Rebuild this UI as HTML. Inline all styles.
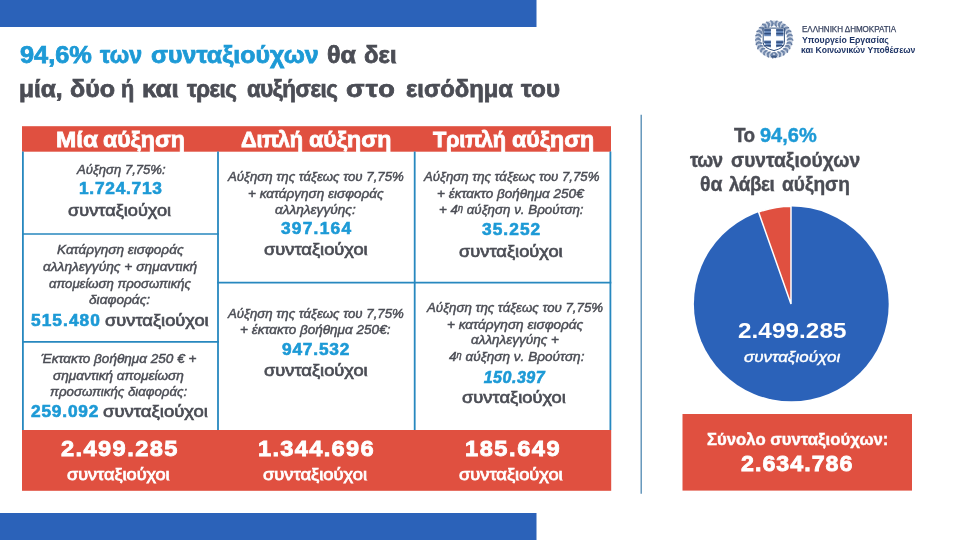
<!DOCTYPE html>
<html lang="el">
<head>
<meta charset="utf-8">
<title>Αυξήσεις συντάξεων</title>
<style>
html,body{margin:0;padding:0;background:#fff;}
body{width:960px;height:540px;position:relative;overflow:hidden;font-family:"Liberation Sans",sans-serif;}
.abs{position:absolute;}
.t{position:absolute;white-space:nowrap;transform-origin:0 0;display:block;}
.t sup{font-size:68%;line-height:0;vertical-align:baseline;position:relative;top:-0.36em;}
</style>
</head>
<body>
<!-- colour blocks -->
<svg class="abs" style="left:0;top:0;" width="960" height="540" viewBox="0 0 960 540">
  <g fill="#2b62b9">
    <rect x="0" y="0" width="536.5" height="27"/>
    <rect x="0" y="513" width="536.5" height="27"/>
  </g>
  <g fill="#e05040">
    <rect x="22" y="126.2" width="589" height="25.5"/>
    <rect x="22" y="430" width="589.2" height="60.8"/>
    <rect x="682.5" y="414" width="229.5" height="76.6"/>
  </g>
</svg>
<!-- table lines -->
<svg class="abs" style="left:0;top:100px;" width="660" height="400" viewBox="0 100 660 400">
  <g stroke="#2788bf" stroke-width="1.8" fill="none">
    <path d="M22.9 151.5V430 M218 151.5V430 M414.7 151.5V430 M610.4 151.5V430"/>
    <path d="M22 234H218.9 M22 341.8H218.9 M217.1 282.6H611.3" stroke-width="1.7"/>
  </g>
  <path d="M641.2 114.8V493.8" stroke="#4f88b2" stroke-width="1.3" fill="none"/>
</svg>

<!-- pie -->
<svg class="abs" style="left:680px;top:195px;" width="220" height="215" viewBox="680 195 220 215">
  <circle cx="791.3" cy="303.9" r="97.4" fill="#2b62b9"/>
  <path d="M791.0 303.9 L791.0 206.20 A97.4 97.4 0 0 0 758.58 212.05 Z" fill="#e05040" stroke="#fff" stroke-width="1.5" stroke-linejoin="miter"/>
</svg>

<svg class="abs" style="left:750px;top:15px;" width="48" height="48" viewBox="750 15 48 48">
<circle cx="774.0" cy="39.2" r="16.1" fill="none" stroke="#b9c6da" stroke-width="5.4" opacity="0.8"/>
<g opacity="0.88"><ellipse cx="776.08" cy="22.08" rx="2.05" ry="0.85" fill="#4f6790" transform="rotate(134.9 776.08 22.08)"/><ellipse cx="775.92" cy="23.38" rx="2.08" ry="0.85" fill="#7088ad" transform="rotate(96.9 775.92 23.38)"/><ellipse cx="775.70" cy="25.16" rx="2.20" ry="0.85" fill="#5d769e" transform="rotate(58.9 775.70 25.16)"/><ellipse cx="780.26" cy="22.70" rx="2.40" ry="0.85" fill="#4f6790" transform="rotate(148.8 780.26 22.70)"/><ellipse cx="779.73" cy="24.09" rx="2.11" ry="0.85" fill="#7088ad" transform="rotate(110.8 779.73 24.09)"/><ellipse cx="779.11" cy="25.72" rx="2.14" ry="0.85" fill="#5d769e" transform="rotate(72.8 779.11 25.72)"/><ellipse cx="783.77" cy="25.04" rx="2.05" ry="0.85" fill="#4f6790" transform="rotate(162.6 783.77 25.04)"/><ellipse cx="782.99" cy="26.17" rx="2.46" ry="0.85" fill="#7088ad" transform="rotate(124.6 782.99 26.17)"/><ellipse cx="782.29" cy="27.19" rx="2.40" ry="0.85" fill="#5d769e" transform="rotate(86.6 782.29 27.19)"/><ellipse cx="787.16" cy="27.54" rx="2.10" ry="0.85" fill="#4f6790" transform="rotate(176.5 787.16 27.54)"/><ellipse cx="785.89" cy="28.67" rx="2.31" ry="0.85" fill="#7088ad" transform="rotate(138.5 785.89 28.67)"/><ellipse cx="784.88" cy="29.56" rx="2.43" ry="0.85" fill="#5d769e" transform="rotate(100.5 784.88 29.56)"/><ellipse cx="789.61" cy="31.01" rx="2.04" ry="0.85" fill="#4f6790" transform="rotate(190.3 789.61 31.01)"/><ellipse cx="788.22" cy="31.73" rx="2.34" ry="0.85" fill="#7088ad" transform="rotate(152.3 788.22 31.73)"/><ellipse cx="786.75" cy="32.51" rx="2.09" ry="0.85" fill="#5d769e" transform="rotate(114.3 786.75 32.51)"/><ellipse cx="790.88" cy="35.04" rx="2.04" ry="0.85" fill="#4f6790" transform="rotate(204.2 790.88 35.04)"/><ellipse cx="789.79" cy="35.31" rx="2.43" ry="0.85" fill="#7088ad" transform="rotate(166.2 789.79 35.31)"/><ellipse cx="788.01" cy="35.75" rx="2.15" ry="0.85" fill="#5d769e" transform="rotate(128.2 788.01 35.75)"/><ellipse cx="791.65" cy="39.20" rx="2.29" ry="0.85" fill="#4f6790" transform="rotate(218.0 791.65 39.20)"/><ellipse cx="790.23" cy="39.20" rx="2.42" ry="0.85" fill="#7088ad" transform="rotate(180.0 790.23 39.20)"/><ellipse cx="788.41" cy="39.20" rx="2.21" ry="0.85" fill="#5d769e" transform="rotate(142.0 788.41 39.20)"/><ellipse cx="790.95" cy="43.38" rx="2.22" ry="0.85" fill="#4f6790" transform="rotate(231.8 790.95 43.38)"/><ellipse cx="789.34" cy="42.98" rx="2.15" ry="0.85" fill="#7088ad" transform="rotate(193.8 789.34 42.98)"/><ellipse cx="788.16" cy="42.69" rx="2.02" ry="0.85" fill="#5d769e" transform="rotate(155.8 788.16 42.69)"/><ellipse cx="789.17" cy="47.16" rx="2.31" ry="0.85" fill="#4f6790" transform="rotate(245.7 789.17 47.16)"/><ellipse cx="788.05" cy="46.57" rx="2.27" ry="0.85" fill="#7088ad" transform="rotate(207.7 788.05 46.57)"/><ellipse cx="786.74" cy="45.88" rx="2.17" ry="0.85" fill="#5d769e" transform="rotate(169.7 786.74 45.88)"/><ellipse cx="787.25" cy="50.94" rx="2.10" ry="0.85" fill="#4f6790" transform="rotate(259.5 787.25 50.94)"/><ellipse cx="785.94" cy="49.78" rx="2.10" ry="0.85" fill="#7088ad" transform="rotate(221.5 785.94 49.78)"/><ellipse cx="784.84" cy="48.80" rx="2.14" ry="0.85" fill="#5d769e" transform="rotate(183.5 784.84 48.80)"/><ellipse cx="783.84" cy="53.45" rx="2.37" ry="0.85" fill="#4f6790" transform="rotate(273.4 783.84 53.45)"/><ellipse cx="783.03" cy="52.28" rx="2.28" ry="0.85" fill="#7088ad" transform="rotate(235.4 783.03 52.28)"/><ellipse cx="782.32" cy="51.25" rx="2.05" ry="0.85" fill="#5d769e" transform="rotate(197.4 782.32 51.25)"/><ellipse cx="780.08" cy="55.22" rx="2.11" ry="0.85" fill="#4f6790" transform="rotate(287.2 780.08 55.22)"/><ellipse cx="779.73" cy="54.31" rx="2.31" ry="0.85" fill="#7088ad" transform="rotate(249.2 779.73 54.31)"/><ellipse cx="779.05" cy="52.52" rx="2.17" ry="0.85" fill="#5d769e" transform="rotate(211.2 779.05 52.52)"/><ellipse cx="776.07" cy="56.28" rx="2.23" ry="0.85" fill="#4f6790" transform="rotate(301.1 776.07 56.28)"/><ellipse cx="775.90" cy="54.81" rx="2.35" ry="0.85" fill="#7088ad" transform="rotate(263.1 775.90 54.81)"/><ellipse cx="775.76" cy="53.73" rx="2.48" ry="0.85" fill="#5d769e" transform="rotate(225.1 775.76 53.73)"/><ellipse cx="771.89" cy="56.61" rx="2.48" ry="0.85" fill="#4f6790" transform="rotate(418.9 771.89 56.61)"/><ellipse cx="772.11" cy="54.80" rx="2.14" ry="0.85" fill="#7088ad" transform="rotate(456.9 772.11 54.80)"/><ellipse cx="772.23" cy="53.77" rx="2.39" ry="0.85" fill="#5d769e" transform="rotate(494.9 772.23 53.77)"/><ellipse cx="767.85" cy="55.42" rx="2.47" ry="0.85" fill="#4f6790" transform="rotate(432.8 767.85 55.42)"/><ellipse cx="768.30" cy="54.23" rx="2.41" ry="0.85" fill="#7088ad" transform="rotate(470.8 768.30 54.23)"/><ellipse cx="768.94" cy="52.55" rx="2.10" ry="0.85" fill="#5d769e" transform="rotate(508.8 768.94 52.55)"/><ellipse cx="764.13" cy="53.49" rx="2.07" ry="0.85" fill="#4f6790" transform="rotate(446.6 764.13 53.49)"/><ellipse cx="764.95" cy="52.31" rx="2.48" ry="0.85" fill="#7088ad" transform="rotate(484.6 764.95 52.31)"/><ellipse cx="765.88" cy="50.97" rx="2.00" ry="0.85" fill="#5d769e" transform="rotate(522.6 765.88 50.97)"/><ellipse cx="761.18" cy="50.56" rx="2.08" ry="0.85" fill="#4f6790" transform="rotate(460.5 761.18 50.56)"/><ellipse cx="761.90" cy="49.92" rx="2.18" ry="0.85" fill="#7088ad" transform="rotate(498.5 761.90 49.92)"/><ellipse cx="763.32" cy="48.67" rx="2.05" ry="0.85" fill="#5d769e" transform="rotate(536.5 763.32 48.67)"/><ellipse cx="758.34" cy="47.42" rx="2.21" ry="0.85" fill="#4f6790" transform="rotate(474.3 758.34 47.42)"/><ellipse cx="759.99" cy="46.55" rx="2.03" ry="0.85" fill="#7088ad" transform="rotate(512.3 759.99 46.55)"/><ellipse cx="761.49" cy="45.77" rx="2.08" ry="0.85" fill="#5d769e" transform="rotate(550.3 761.49 45.77)"/><ellipse cx="757.00" cy="43.39" rx="2.07" ry="0.85" fill="#4f6790" transform="rotate(488.2 757.00 43.39)"/><ellipse cx="758.73" cy="42.96" rx="2.25" ry="0.85" fill="#7088ad" transform="rotate(526.2 758.73 42.96)"/><ellipse cx="760.16" cy="42.61" rx="2.50" ry="0.85" fill="#5d769e" transform="rotate(564.2 760.16 42.61)"/><ellipse cx="756.83" cy="39.20" rx="2.26" ry="0.85" fill="#4f6790" transform="rotate(502.0 756.83 39.20)"/><ellipse cx="757.84" cy="39.20" rx="2.20" ry="0.85" fill="#7088ad" transform="rotate(540.0 757.84 39.20)"/><ellipse cx="759.31" cy="39.20" rx="2.24" ry="0.85" fill="#5d769e" transform="rotate(578.0 759.31 39.20)"/><ellipse cx="757.26" cy="35.07" rx="2.21" ry="0.85" fill="#4f6790" transform="rotate(515.8 757.26 35.07)"/><ellipse cx="758.73" cy="35.44" rx="2.21" ry="0.85" fill="#7088ad" transform="rotate(553.8 758.73 35.44)"/><ellipse cx="760.16" cy="35.79" rx="2.44" ry="0.85" fill="#5d769e" transform="rotate(591.8 760.16 35.79)"/><ellipse cx="758.42" cy="31.02" rx="2.25" ry="0.85" fill="#4f6790" transform="rotate(529.7 758.42 31.02)"/><ellipse cx="760.08" cy="31.90" rx="2.13" ry="0.85" fill="#7088ad" transform="rotate(567.7 760.08 31.90)"/><ellipse cx="761.39" cy="32.58" rx="2.10" ry="0.85" fill="#5d769e" transform="rotate(605.7 761.39 32.58)"/><ellipse cx="761.10" cy="27.77" rx="2.43" ry="0.85" fill="#4f6790" transform="rotate(543.5 761.10 27.77)"/><ellipse cx="762.18" cy="28.73" rx="2.03" ry="0.85" fill="#7088ad" transform="rotate(581.5 762.18 28.73)"/><ellipse cx="763.03" cy="29.48" rx="2.28" ry="0.85" fill="#5d769e" transform="rotate(619.5 763.03 29.48)"/><ellipse cx="763.95" cy="24.64" rx="2.20" ry="0.85" fill="#4f6790" transform="rotate(557.4 763.95 24.64)"/><ellipse cx="764.77" cy="25.83" rx="2.33" ry="0.85" fill="#7088ad" transform="rotate(595.4 764.77 25.83)"/><ellipse cx="765.72" cy="27.21" rx="2.37" ry="0.85" fill="#5d769e" transform="rotate(633.4 765.72 27.21)"/><ellipse cx="767.83" cy="22.93" rx="2.05" ry="0.85" fill="#4f6790" transform="rotate(571.2 767.83 22.93)"/><ellipse cx="768.39" cy="24.40" rx="2.44" ry="0.85" fill="#7088ad" transform="rotate(609.2 768.39 24.40)"/><ellipse cx="768.81" cy="25.51" rx="2.46" ry="0.85" fill="#5d769e" transform="rotate(647.2 768.81 25.51)"/><ellipse cx="771.91" cy="22.02" rx="2.33" ry="0.85" fill="#4f6790" transform="rotate(585.1 771.91 22.02)"/><ellipse cx="772.05" cy="23.14" rx="2.32" ry="0.85" fill="#7088ad" transform="rotate(623.1 772.05 23.14)"/><ellipse cx="772.24" cy="24.72" rx="2.26" ry="0.85" fill="#5d769e" transform="rotate(661.1 772.24 24.72)"/></g>
<path d="M770.8 56.400000000000006 q3.2 -2.2 6.4 0 q-3.2 2.6 -6.4 0z" fill="#3f5a86"/>
<path d="M763.2 28.1 H784.4 V42.6 Q784.4 48.1 774.0 50.6 Q763.2 48.1 763.2 42.6 Z" fill="#fff" stroke="#34527f" stroke-width="1"/>
<g fill="#6b8cbe"><rect x="764.2" y="29.1" width="6.7" height="7.1"/><rect x="776.2" y="29.1" width="7.2" height="7.1"/><path d="M764.2 40.6 H770.9 V47.6 Q764.7 46.1 764.2 42.1 Z"/><path d="M783.4 40.6 H776.2 V47.6 Q782.9 46.1 783.4 42.1 Z"/></g>
<g fill="#2b4777" opacity="0.9"><rect x="764.2" y="29.3" width="6.7" height="1.5"/><rect x="776.2" y="29.3" width="7.2" height="1.5"/><rect x="764.2" y="32.9" width="6.7" height="1.5"/><rect x="776.2" y="32.9" width="7.2" height="1.5"/><rect x="764.2" y="41.4" width="6.7" height="1.5"/><rect x="776.2" y="41.4" width="7.2" height="1.5"/><rect x="764.2" y="45.0" width="6.7" height="1.5"/><rect x="776.2" y="45.0" width="7.2" height="1.5"/></g>
</svg>
<span class="t" style="left:19.53px;top:44.20px;font-size:23px;line-height:23px;color:#1d9ad6;transform:scaleX(1.1026);font-weight:700;-webkit-text-stroke:0.75px #1d9ad6;">94,6%</span>
<span class="t" style="left:100.38px;top:44.20px;font-size:23px;line-height:23px;color:#1d9ad6;transform:scaleX(1.0029);font-weight:700;-webkit-text-stroke:0.75px #1d9ad6;">των</span>
<span class="t" style="left:150.59px;top:44.20px;font-size:23px;line-height:23px;color:#1d9ad6;transform:scaleX(1.0833);font-weight:700;-webkit-text-stroke:0.75px #1d9ad6;">συνταξιούχων</span>
<span class="t" style="left:327.17px;top:44.20px;font-size:23px;line-height:23px;color:#4b4d55;transform:scaleX(1.0887);font-weight:700;-webkit-text-stroke:0.75px #4b4d55;">θα</span>
<span class="t" style="left:364.13px;top:44.20px;font-size:23px;line-height:23px;color:#4b4d55;transform:scaleX(1.0415);font-weight:700;-webkit-text-stroke:0.75px #4b4d55;">δει</span>
<span class="t" style="left:18.68px;top:78.00px;font-size:23px;line-height:23px;color:#4b4d55;transform:scaleX(1.0650);font-weight:700;-webkit-text-stroke:0.75px #4b4d55;">μία,</span>
<span class="t" style="left:70.11px;top:78.00px;font-size:23px;line-height:23px;color:#4b4d55;transform:scaleX(1.0878);font-weight:700;-webkit-text-stroke:0.75px #4b4d55;">δύο</span>
<span class="t" style="left:121.16px;top:78.00px;font-size:23px;line-height:23px;color:#4b4d55;transform:scaleX(0.9379);font-weight:700;-webkit-text-stroke:0.75px #4b4d55;">ή</span>
<span class="t" style="left:142.15px;top:78.00px;font-size:23px;line-height:23px;color:#4b4d55;transform:scaleX(1.1293);font-weight:700;-webkit-text-stroke:0.75px #4b4d55;">και</span>
<span class="t" style="left:187.17px;top:78.00px;font-size:23px;line-height:23px;color:#4b4d55;transform:scaleX(0.9700);font-weight:700;-webkit-text-stroke:0.75px #4b4d55;letter-spacing:-0.615px;">τρεις</span>
<span class="t" style="left:247.11px;top:78.00px;font-size:23px;line-height:23px;color:#4b4d55;transform:scaleX(0.9700);font-weight:700;-webkit-text-stroke:0.75px #4b4d55;letter-spacing:-0.437px;">αυξήσεις</span>
<span class="t" style="left:346.15px;top:78.00px;font-size:23px;line-height:23px;color:#4b4d55;transform:scaleX(1.1800);font-weight:700;-webkit-text-stroke:0.75px #4b4d55;letter-spacing:0.952px;">στο</span>
<span class="t" style="left:405.86px;top:78.00px;font-size:23px;line-height:23px;color:#4b4d55;transform:scaleX(1.0354);font-weight:700;-webkit-text-stroke:0.75px #4b4d55;">εισόδημα</span>
<span class="t" style="left:521.39px;top:78.00px;font-size:23px;line-height:23px;color:#4b4d55;transform:scaleX(1.0515);font-weight:700;-webkit-text-stroke:0.75px #4b4d55;">του</span>
<span class="t" style="left:56.40px;top:128.55px;font-size:22.5px;line-height:22.5px;color:#ffffff;transform:scaleX(1.0814);font-weight:700;-webkit-text-stroke:0.8px #ffffff;">Μία</span>
<span class="t" style="left:102.89px;top:128.55px;font-size:22.5px;line-height:22.5px;color:#ffffff;transform:scaleX(1.0241);font-weight:700;-webkit-text-stroke:0.8px #ffffff;">αύξηση</span>
<span class="t" style="left:240.56px;top:128.55px;font-size:22.5px;line-height:22.5px;color:#ffffff;transform:scaleX(0.9700);font-weight:700;-webkit-text-stroke:0.8px #ffffff;letter-spacing:-0.269px;">Διπλή</span>
<span class="t" style="left:308.88px;top:128.55px;font-size:22.5px;line-height:22.5px;color:#ffffff;transform:scaleX(1.0313);font-weight:700;-webkit-text-stroke:0.8px #ffffff;">αύξηση</span>
<span class="t" style="left:432.95px;top:128.55px;font-size:22.5px;line-height:22.5px;color:#ffffff;transform:scaleX(0.9700);font-weight:700;-webkit-text-stroke:0.8px #ffffff;letter-spacing:-0.247px;">Τριπλή</span>
<span class="t" style="left:511.69px;top:128.55px;font-size:22.5px;line-height:22.5px;color:#ffffff;transform:scaleX(1.0300);font-weight:700;-webkit-text-stroke:0.8px #ffffff;">αύξηση</span>
<span class="t" style="left:76.73px;top:162.76px;font-size:13px;line-height:13px;color:#4b4d55;transform:scaleX(1.0077);font-style:italic;-webkit-text-stroke:0.45px #4b4d55;">Αύξηση 7,75%:</span>
<span class="t" style="left:79.14px;top:180.75px;font-size:16px;line-height:16px;color:#1d9ad6;transform:scaleX(1.0800);font-weight:700;-webkit-text-stroke:0.6px #1d9ad6;letter-spacing:0.693px;">1.724.713</span>
<span class="t" style="left:68.15px;top:202.75px;font-size:16px;line-height:16px;color:#4b4d55;transform:scaleX(1.1350);-webkit-text-stroke:0.65px #4b4d55;">συνταξιούχοι</span>
<span class="t" style="left:56.75px;top:242.75px;font-size:13px;line-height:13px;color:#4b4d55;transform:scaleX(1.0437);font-style:italic;-webkit-text-stroke:0.45px #4b4d55;">Κατάργηση εισφοράς</span>
<span class="t" style="left:42.74px;top:260.25px;font-size:13px;line-height:13px;color:#4b4d55;transform:scaleX(1.0588);font-style:italic;-webkit-text-stroke:0.45px #4b4d55;">αλληλεγγύης + σημαντική</span>
<span class="t" style="left:48.76px;top:277.25px;font-size:13px;line-height:13px;color:#4b4d55;transform:scaleX(1.0109);font-style:italic;-webkit-text-stroke:0.45px #4b4d55;">απομείωση προσωπικής</span>
<span class="t" style="left:88.78px;top:292.75px;font-size:13px;line-height:13px;color:#4b4d55;transform:scaleX(1.0530);font-style:italic;-webkit-text-stroke:0.45px #4b4d55;">διαφοράς:</span>
<span class="t" style="left:31.21px;top:312.75px;font-size:16px;line-height:16px;color:#1d9ad6;transform:scaleX(1.0800);font-weight:700;-webkit-text-stroke:0.6px #1d9ad6;letter-spacing:0.993px;">515.480</span>
<span class="t" style="left:104.65px;top:312.75px;font-size:16px;line-height:16px;color:#4b4d55;transform:scaleX(1.1420);-webkit-text-stroke:0.65px #4b4d55;">συνταξιούχοι</span>
<span class="t" style="left:41.20px;top:352.25px;font-size:13px;line-height:13px;color:#4b4d55;transform:scaleX(1.0437);font-style:italic;-webkit-text-stroke:0.45px #4b4d55;">Έκτακτο βοήθημα 250 € +</span>
<span class="t" style="left:53.24px;top:369.25px;font-size:13px;line-height:13px;color:#4b4d55;transform:scaleX(1.0435);font-style:italic;-webkit-text-stroke:0.45px #4b4d55;">σημαντική απομείωση</span>
<span class="t" style="left:49.53px;top:385.25px;font-size:13px;line-height:13px;color:#4b4d55;transform:scaleX(1.0211);font-style:italic;-webkit-text-stroke:0.45px #4b4d55;">προσωπικής διαφοράς:</span>
<span class="t" style="left:31.28px;top:403.50px;font-size:16px;line-height:16px;color:#1d9ad6;transform:scaleX(1.0800);font-weight:700;-webkit-text-stroke:0.6px #1d9ad6;letter-spacing:0.753px;">259.092</span>
<span class="t" style="left:103.14px;top:403.50px;font-size:16px;line-height:16px;color:#4b4d55;transform:scaleX(1.1564);-webkit-text-stroke:0.65px #4b4d55;">συνταξιούχοι</span>
<span class="t" style="left:227.75px;top:170.25px;font-size:13px;line-height:13px;color:#4b4d55;transform:scaleX(1.0178);font-style:italic;-webkit-text-stroke:0.45px #4b4d55;">Αύξηση της τάξεως του 7,75%</span>
<span class="t" style="left:247.97px;top:187.25px;font-size:13px;line-height:13px;color:#4b4d55;transform:scaleX(1.0410);font-style:italic;-webkit-text-stroke:0.45px #4b4d55;">+ κατάργηση εισφοράς</span>
<span class="t" style="left:274.74px;top:203.25px;font-size:13px;line-height:13px;color:#4b4d55;transform:scaleX(1.0512);font-style:italic;-webkit-text-stroke:0.45px #4b4d55;">αλληλεγγύης:</span>
<span class="t" style="left:281.28px;top:220.75px;font-size:16px;line-height:16px;color:#1d9ad6;transform:scaleX(1.0800);font-weight:700;-webkit-text-stroke:0.6px #1d9ad6;letter-spacing:1.164px;">397.164</span>
<span class="t" style="left:263.65px;top:241.75px;font-size:16px;line-height:16px;color:#4b4d55;transform:scaleX(1.1420);-webkit-text-stroke:0.65px #4b4d55;">συνταξιούχοι</span>
<span class="t" style="left:227.75px;top:307.25px;font-size:13px;line-height:13px;color:#4b4d55;transform:scaleX(1.0178);font-style:italic;-webkit-text-stroke:0.45px #4b4d55;">Αύξηση της τάξεως του 7,75%</span>
<span class="t" style="left:240.46px;top:323.25px;font-size:13px;line-height:13px;color:#4b4d55;transform:scaleX(1.0421);font-style:italic;-webkit-text-stroke:0.45px #4b4d55;">+ έκτακτο βοήθημα 250€:</span>
<span class="t" style="left:281.76px;top:341.75px;font-size:16px;line-height:16px;color:#1d9ad6;transform:scaleX(1.0800);font-weight:700;-webkit-text-stroke:0.6px #1d9ad6;letter-spacing:0.757px;">947.532</span>
<span class="t" style="left:263.65px;top:362.75px;font-size:16px;line-height:16px;color:#4b4d55;transform:scaleX(1.1420);-webkit-text-stroke:0.65px #4b4d55;">συνταξιούχοι</span>
<span class="t" style="left:424.25px;top:170.25px;font-size:13px;line-height:13px;color:#4b4d55;transform:scaleX(1.0157);font-style:italic;-webkit-text-stroke:0.45px #4b4d55;">Αύξηση της τάξεως του 7,75%</span>
<span class="t" style="left:437.46px;top:187.25px;font-size:13px;line-height:13px;color:#4b4d55;transform:scaleX(1.0423);font-style:italic;-webkit-text-stroke:0.45px #4b4d55;">+ έκτακτο βοήθημα 250€</span>
<span class="t" style="left:439.48px;top:203.25px;font-size:13px;line-height:13px;color:#4b4d55;transform:scaleX(1.0270);font-style:italic;-webkit-text-stroke:0.45px #4b4d55;">+ 4<sup>η</sup> αύξηση ν. Βρούτση:</span>
<span class="t" style="left:481.78px;top:221.50px;font-size:16px;line-height:16px;color:#1d9ad6;transform:scaleX(1.0800);font-weight:700;-webkit-text-stroke:0.6px #1d9ad6;letter-spacing:0.985px;">35.252</span>
<span class="t" style="left:458.65px;top:243.75px;font-size:16px;line-height:16px;color:#4b4d55;transform:scaleX(1.1420);-webkit-text-stroke:0.65px #4b4d55;">συνταξιούχοι</span>
<span class="t" style="left:426.76px;top:301.10px;font-size:13px;line-height:13px;color:#4b4d55;transform:scaleX(1.0194);font-style:italic;-webkit-text-stroke:0.45px #4b4d55;">Αύξηση της τάξεως του 7,75%</span>
<span class="t" style="left:447.46px;top:318.25px;font-size:13px;line-height:13px;color:#4b4d55;transform:scaleX(1.0461);font-style:italic;-webkit-text-stroke:0.45px #4b4d55;">+ κατάργηση εισφοράς</span>
<span class="t" style="left:471.25px;top:333.25px;font-size:13px;line-height:13px;color:#4b4d55;transform:scaleX(1.0419);font-style:italic;-webkit-text-stroke:0.45px #4b4d55;">αλληλεγγύης +</span>
<span class="t" style="left:448.56px;top:350.25px;font-size:13px;line-height:13px;color:#4b4d55;transform:scaleX(1.0453);font-style:italic;-webkit-text-stroke:0.45px #4b4d55;">4<sup>η</sup> αύξηση ν. Βρούτση:</span>
<span class="t" style="left:483.70px;top:369.75px;font-size:16px;line-height:16px;color:#1d9ad6;transform:scaleX(1.0000);font-weight:700;font-style:italic;-webkit-text-stroke:0.6px #1d9ad6;letter-spacing:0.517px;">150.397</span>
<span class="t" style="left:461.64px;top:390.25px;font-size:16px;line-height:16px;color:#4b4d55;transform:scaleX(1.1433);-webkit-text-stroke:0.65px #4b4d55;">συνταξιούχοι</span>
<span class="t" style="left:61.17px;top:439.00px;font-size:21.5px;line-height:21.5px;color:#ffffff;transform:scaleX(1.1000);font-weight:700;-webkit-text-stroke:0.8px #ffffff;letter-spacing:1.27px;">2.499.285</span>
<span class="t" style="left:258.05px;top:438.50px;font-size:21.5px;line-height:21.5px;color:#ffffff;transform:scaleX(1.1000);font-weight:700;-webkit-text-stroke:0.8px #ffffff;letter-spacing:1.187px;">1.344.696</span>
<span class="t" style="left:464.85px;top:439.00px;font-size:21.5px;line-height:21.5px;color:#ffffff;transform:scaleX(1.1000);font-weight:700;-webkit-text-stroke:0.8px #ffffff;letter-spacing:1.393px;">185.649</span>
<span class="t" style="left:66.69px;top:467.00px;font-size:16px;line-height:16px;color:#ffffff;transform:scaleX(1.1307);-webkit-text-stroke:0.75px #ffffff;">συνταξιούχοι</span>
<span class="t" style="left:263.18px;top:467.00px;font-size:16px;line-height:16px;color:#ffffff;transform:scaleX(1.1459);-webkit-text-stroke:0.75px #ffffff;">συνταξιούχοι</span>
<span class="t" style="left:458.68px;top:467.00px;font-size:16px;line-height:16px;color:#ffffff;transform:scaleX(1.1414);-webkit-text-stroke:0.75px #ffffff;">συνταξιούχοι</span>
<span class="t" style="left:733.69px;top:125.55px;font-size:19.5px;line-height:19.5px;color:#4b4d55;transform:scaleX(0.9700);font-weight:700;-webkit-text-stroke:0.4px #4b4d55;letter-spacing:-0.607px;">Το</span>
<span class="t" style="left:760.16px;top:125.55px;font-size:19.5px;line-height:19.5px;color:#1d9ad6;transform:scaleX(1.0246);font-weight:700;-webkit-text-stroke:0.4px #1d9ad6;">94,6%</span>
<span class="t" style="left:690.49px;top:151.00px;font-size:19.5px;line-height:19.5px;color:#4b4d55;transform:scaleX(0.9700);font-weight:700;-webkit-text-stroke:0.4px #4b4d55;letter-spacing:-0.677px;">των</span>
<span class="t" style="left:730.73px;top:151.00px;font-size:19.5px;line-height:19.5px;color:#4b4d55;transform:scaleX(0.9855);font-weight:700;-webkit-text-stroke:0.4px #4b4d55;">συνταξιούχων</span>
<span class="t" style="left:700.03px;top:175.00px;font-size:19.5px;line-height:19.5px;color:#4b4d55;transform:scaleX(0.9973);font-weight:700;-webkit-text-stroke:0.4px #4b4d55;">θα</span>
<span class="t" style="left:729.05px;top:175.00px;font-size:19.5px;line-height:19.5px;color:#4b4d55;transform:scaleX(0.9700);font-weight:700;-webkit-text-stroke:0.4px #4b4d55;letter-spacing:-0.517px;">λάβει</span>
<span class="t" style="left:781.52px;top:175.00px;font-size:19.5px;line-height:19.5px;color:#4b4d55;transform:scaleX(0.9812);font-weight:700;-webkit-text-stroke:0.4px #4b4d55;">αύξηση</span>
<span class="t" style="left:737.96px;top:319.80px;font-size:22px;line-height:22px;color:#ffffff;transform:scaleX(1.1000);font-weight:700;letter-spacing:0.087px;">2.499.285</span>
<span class="t" style="left:743.67px;top:350.00px;font-size:14.5px;line-height:14.5px;color:#ffffff;transform:scaleX(1.1706);font-style:italic;-webkit-text-stroke:0.4px #ffffff;">συνταξιούχοι</span>
<span class="t" style="left:707.18px;top:430.85px;font-size:16.5px;line-height:16.5px;color:#ffffff;transform:scaleX(1.0142);font-weight:700;-webkit-text-stroke:0.4px #ffffff;">Σύνολο συνταξιούχων:</span>
<span class="t" style="left:740.89px;top:453.85px;font-size:21.5px;line-height:21.5px;color:#ffffff;transform:scaleX(1.0800);font-weight:700;-webkit-text-stroke:0.8px #ffffff;letter-spacing:0.943px;">2.634.786</span>
<span class="t" style="left:801.57px;top:24.85px;font-size:8.3px;line-height:8.3px;color:#3a4562;transform:scaleX(0.9699);-webkit-text-stroke:0.25px #3a4562;letter-spacing:-0.019px;">ΕΛΛΗΝΙΚΗ ΔΗΜΟΚΡΑΤΙΑ</span>
<span class="t" style="left:801.61px;top:35.60px;font-size:8.8px;line-height:8.8px;color:#1f3566;transform:scaleX(0.9902);font-weight:700;">Υπουργείο Εργασίας</span>
<span class="t" style="left:801.41px;top:46.00px;font-size:8.8px;line-height:8.8px;color:#1f3566;transform:scaleX(0.9798);font-weight:700;">και Κοινωνικών Υποθέσεων</span>
</body>
</html>
